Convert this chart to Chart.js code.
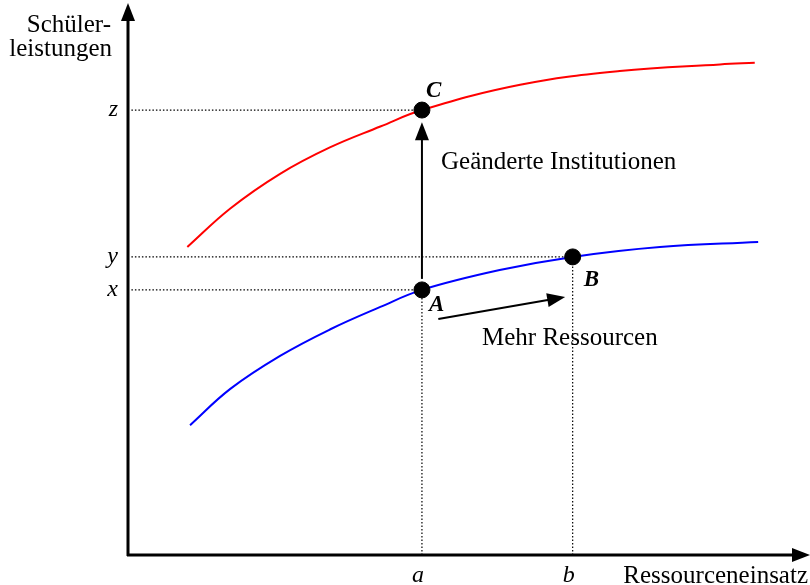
<!DOCTYPE html>
<html>
<head>
<meta charset="utf-8">
<script src="https://cdn.jsdelivr.net/npm/chart.js@4.4.1/dist/chart.umd.min.js"></script>
<style>
  html, body { margin: 0; padding: 0; background: #fff; }
  #wrap { width: 810px; height: 585px; }
</style>
</head>
<body>
<div id="wrap"><canvas id="chart" width="810" height="585"></canvas></div>
<script>
// Curve data (arbitrary units 0..10)
const blueX = [0.91, 1.50, 2.23, 2.96, 3.70, 4.31, 5.45, 6.52, 7.80, 9.24];
const blueY = [2.36, 3.02, 3.62, 4.10, 4.51, 4.82, 5.18, 5.42, 5.60, 5.69];
const redX = [0.87, 1.50, 2.23, 2.96, 3.70, 4.31, 5.75, 7.21, 8.68, 9.19];
const redY = [5.60, 6.30, 6.93, 7.41, 7.79, 8.09, 8.55, 8.80, 8.92, 8.95];

// Points A, B, C
const pointNames = ['A', 'B', 'C'];
const pointX = [4.31, 6.52, 4.31];
const pointY = [4.82, 5.42, 8.09];

// Tick labels
const xTickLabels = ['a', 'b'];
const xTickValues = [4.31, 6.52];
const yTickLabels = ['x', 'y', 'z'];
const yTickValues = [4.82, 5.42, 8.09];

// Arrows: [x0, y0, x1, y1] (tip at x1, y1)
const arrowUp = [4.31, 5.02, 4.31, 7.87];
const arrowRight = [4.55, 4.29, 6.41, 4.69];

const serif = '"Liberation Serif", "Times New Roman", serif';

function pairs(xs, ys) {
    return xs.map((x, i) => ({ x: x, y: ys[i] }));
}

// Dotted guide lines from the axes to each point
const guideSets = [];
yTickValues.forEach((v, i) => {
    guideSets.push({ data: [{ x: 0.05, y: v }, { x: pointX[i], y: v }] });
});
xTickValues.forEach((v, i) => {
    guideSets.push({ data: [{ x: v, y: 0 }, { x: v, y: pointY[i] }] });
});

// Draws axes, arrow heads and all texts
const decorPlugin = {
    id: 'decor',
    afterDatasetsDraw(chart) {
        const ctx = chart.ctx;
        const xs = chart.scales.x;
        const ys = chart.scales.y;
        const px = v => xs.getPixelForValue(v);
        const py = v => ys.getPixelForValue(v);

        function head(x0, y0, x1, y1, len, half) {
            const ang = Math.atan2(y1 - y0, x1 - x0);
            ctx.beginPath();
            ctx.moveTo(x1, y1);
            ctx.lineTo(x1 - len * Math.cos(ang) + half * Math.sin(ang), y1 - len * Math.sin(ang) - half * Math.cos(ang));
            ctx.lineTo(x1 - len * Math.cos(ang) - half * Math.sin(ang), y1 - len * Math.sin(ang) + half * Math.cos(ang));
            ctx.closePath();
            ctx.fill();
        }

        ctx.save();
        ctx.fillStyle = '#000';
        ctx.strokeStyle = '#000';

        // axes
        const ox = px(0), oy = py(0);
        ctx.lineWidth = 3;
        ctx.beginPath();
        ctx.moveTo(ox, oy + 1);
        ctx.lineTo(ox, py(10) + 12);
        ctx.moveTo(ox - 1, oy);
        ctx.lineTo(px(10) - 12, oy);
        ctx.stroke();
        head(ox, oy, ox, py(10) - 2, 18, 7);
        head(ox, oy, px(10), oy, 18, 7);

        // arrow heads
        head(px(arrowUp[0]), py(arrowUp[1]), px(arrowUp[2]), py(arrowUp[3]), 18, 7);
        head(px(arrowRight[0]), py(arrowRight[1]), px(arrowRight[2]), py(arrowRight[3]), 18, 7);

        // tick labels
        ctx.font = 'italic 24px ' + serif;
        ctx.textBaseline = 'alphabetic';
        ctx.textAlign = 'center';
        xTickLabels.forEach((t, i) => ctx.fillText(t, px(xTickValues[i]) - 4, 582));
        ctx.textAlign = 'right';
        yTickLabels.forEach((t, i) => ctx.fillText(t, ox - 10, py(yTickValues[i]) + 6));

        // point names
        ctx.font = 'bold italic 23px ' + serif;
        ctx.textAlign = 'left';
        ctx.fillText(pointNames[0], px(pointX[0]) + 7, py(pointY[0]) + 21);
        ctx.fillText(pointNames[1], px(pointX[1]) + 11, py(pointY[1]) + 29);
        ctx.fillText(pointNames[2], px(pointX[2]) + 4, py(pointY[2]) - 13);

        // axis titles and notes
        ctx.font = '25px ' + serif;
        ctx.textAlign = 'right';
        ctx.fillText('Schüler-', 111, 32);
        ctx.fillText('leistungen', 112, 56);
        ctx.fillText('Ressourceneinsatz', 808, 583);
        ctx.textAlign = 'left';
        ctx.fillText('Geänderte Institutionen', 441, 169);
        ctx.fillText('Mehr Ressourcen', 482, 345);
        ctx.restore();
    }
};

const datasets = [
    {
        label: 'Punkte',
        data: pairs(pointX, pointY),
        showLine: false,
        pointRadius: 8,
        pointBackgroundColor: '#000',
        pointBorderColor: '#000'
    },
    {
        label: 'Institutionen',
        data: [{ x: arrowUp[0], y: arrowUp[1] }, { x: arrowUp[2], y: arrowUp[3] - 0.15 }],
        borderColor: '#000',
        borderWidth: 2,
        pointRadius: 0
    },
    {
        label: 'Ressourcen',
        data: [{ x: arrowRight[0], y: arrowRight[1] }, { x: arrowRight[2] - 0.15, y: arrowRight[3] - 0.03 }],
        borderColor: '#000',
        borderWidth: 2,
        pointRadius: 0
    },
    {
        label: 'neu',
        data: pairs(redX, redY),
        borderColor: '#ff0000',
        borderWidth: 2,
        pointRadius: 0,
        tension: 0.4
    },
    {
        label: 'alt',
        data: pairs(blueX, blueY),
        borderColor: '#0000ff',
        borderWidth: 2,
        pointRadius: 0,
        tension: 0.4
    }
];

guideSets.forEach(g => {
    datasets.push({
        data: g.data,
        borderColor: '#000',
        borderWidth: 1.2,
        borderDash: [1.5, 2],
        pointRadius: 0
    });
});

new Chart(document.getElementById('chart'), {
    type: 'scatter',
    data: { datasets: datasets },
    options: {
        responsive: false,
        animation: false,
        showLine: true,
        layout: {
            autoPadding: false,
            padding: { left: 128, right: 0, top: 5, bottom: 30 }
        },
        plugins: {
            legend: { display: false },
            tooltip: { enabled: false }
        },
        scales: {
            x: { type: 'linear', min: 0, max: 10, display: false },
            y: { type: 'linear', min: 0, max: 10, display: false }
        }
    },
    plugins: [decorPlugin]
});
</script>
</body>
</html>
